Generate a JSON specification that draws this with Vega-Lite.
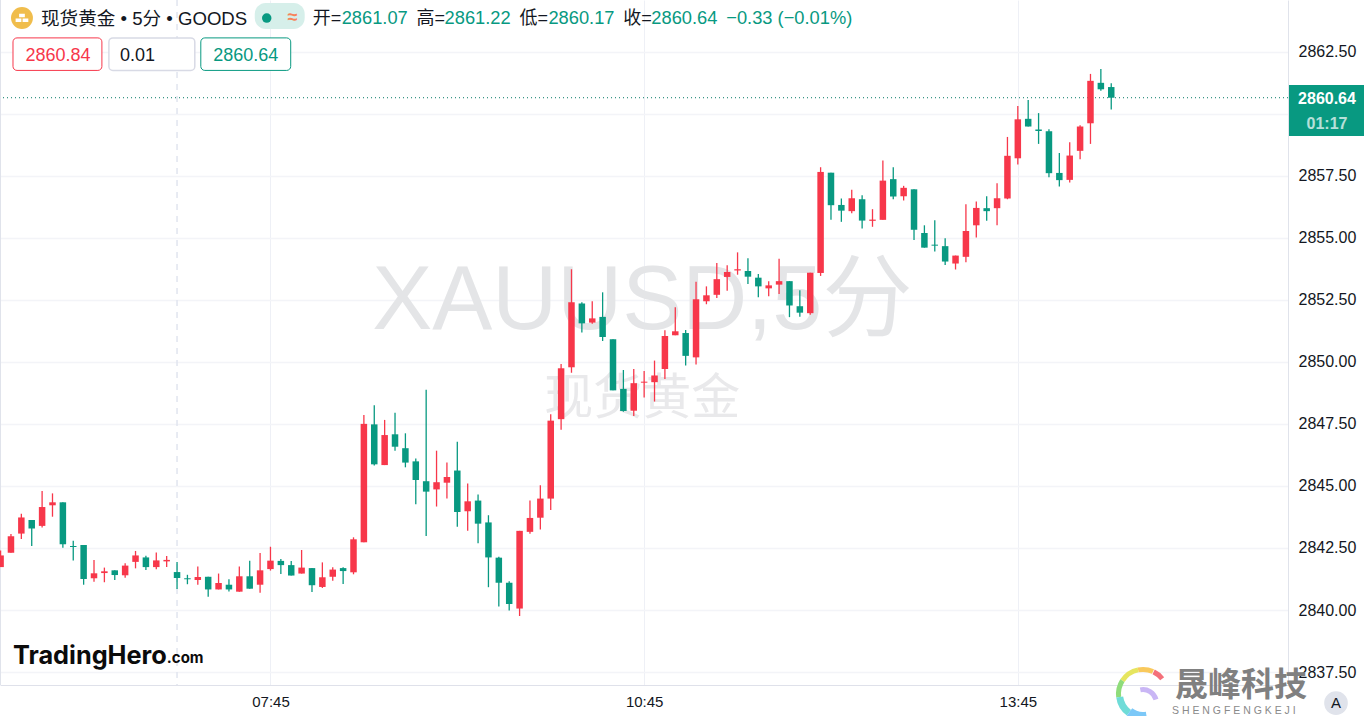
{"$schema":"https://vega.github.io/schema/vega-lite/v6.json","width":1288,"height":685,"autosize":"none","padding":{"left":0,"top":0,"right":76,"bottom":31},"background":"#ffffff","config":{"view":{"stroke":null},"font":"Liberation Sans, Noto Sans CJK SC"},"data":{"values":[{}]},"resolve":{"axis":{"x":"independent","y":"independent"}},"datasets":{"candles":[
{"t":"2025-01-10T05:35:00Z","open":2841.73,"high":2842.4,"low":2841.73,"close":2842.2},
{"t":"2025-01-10T05:40:00Z","open":2842.31,"high":2843.06,"low":2842.31,"close":2842.97},
{"t":"2025-01-10T05:45:00Z","open":2843.08,"high":2843.88,"low":2842.86,"close":2843.73},
{"t":"2025-01-10T05:50:00Z","open":2843.63,"high":2843.63,"low":2842.58,"close":2843.29},
{"t":"2025-01-10T05:55:00Z","open":2843.39,"high":2844.8,"low":2843.33,"close":2844.15},
{"t":"2025-01-10T06:00:00Z","open":2844.22,"high":2844.7,"low":2843.76,"close":2844.34},
{"t":"2025-01-10T06:05:00Z","open":2844.34,"high":2844.34,"low":2842.51,"close":2842.65},
{"t":"2025-01-10T06:10:00Z","open":2842.58,"high":2842.79,"low":2842.0,"close":2842.54},
{"t":"2025-01-10T06:15:00Z","open":2842.62,"high":2842.62,"low":2841.02,"close":2841.25},
{"t":"2025-01-10T06:20:00Z","open":2841.28,"high":2842.02,"low":2841.14,"close":2841.48},
{"t":"2025-01-10T06:25:00Z","open":2841.49,"high":2841.71,"low":2841.12,"close":2841.56},
{"t":"2025-01-10T06:30:00Z","open":2841.6,"high":2841.6,"low":2841.21,"close":2841.41},
{"t":"2025-01-10T06:35:00Z","open":2841.4,"high":2841.89,"low":2841.3,"close":2841.79},
{"t":"2025-01-10T06:40:00Z","open":2841.94,"high":2842.38,"low":2841.68,"close":2842.2},
{"t":"2025-01-10T06:45:00Z","open":2842.12,"high":2842.19,"low":2841.61,"close":2841.73},
{"t":"2025-01-10T06:50:00Z","open":2841.73,"high":2842.32,"low":2841.64,"close":2842.0},
{"t":"2025-01-10T06:55:00Z","open":2841.96,"high":2842.18,"low":2841.73,"close":2842.02},
{"t":"2025-01-10T07:00:00Z","open":2841.53,"high":2841.94,"low":2840.85,"close":2841.29},
{"t":"2025-01-10T07:05:00Z","open":2841.28,"high":2841.42,"low":2841.04,"close":2841.24},
{"t":"2025-01-10T07:10:00Z","open":2841.21,"high":2841.75,"low":2841.02,"close":2841.33},
{"t":"2025-01-10T07:15:00Z","open":2841.34,"high":2841.34,"low":2840.54,"close":2840.83},
{"t":"2025-01-10T07:20:00Z","open":2840.83,"high":2841.47,"low":2840.83,"close":2841.09},
{"t":"2025-01-10T07:25:00Z","open":2841.02,"high":2841.24,"low":2840.75,"close":2840.83},
{"t":"2025-01-10T07:30:00Z","open":2840.74,"high":2841.75,"low":2840.74,"close":2841.36},
{"t":"2025-01-10T07:35:00Z","open":2841.36,"high":2841.99,"low":2840.86,"close":2840.86},
{"t":"2025-01-10T07:40:00Z","open":2841.02,"high":2842.3,"low":2840.7,"close":2841.6},
{"t":"2025-01-10T07:45:00Z","open":2841.65,"high":2842.55,"low":2841.59,"close":2841.99},
{"t":"2025-01-10T07:50:00Z","open":2841.98,"high":2842.06,"low":2841.45,"close":2841.81},
{"t":"2025-01-10T07:55:00Z","open":2841.81,"high":2841.98,"low":2841.39,"close":2841.39},
{"t":"2025-01-10T08:00:00Z","open":2841.47,"high":2842.42,"low":2841.47,"close":2841.71},
{"t":"2025-01-10T08:05:00Z","open":2841.69,"high":2841.69,"low":2840.73,"close":2841.0},
{"t":"2025-01-10T08:10:00Z","open":2840.93,"high":2841.92,"low":2840.89,"close":2841.32},
{"t":"2025-01-10T08:15:00Z","open":2841.34,"high":2841.72,"low":2841.18,"close":2841.63},
{"t":"2025-01-10T08:20:00Z","open":2841.69,"high":2841.72,"low":2841.05,"close":2841.57},
{"t":"2025-01-10T08:25:00Z","open":2841.52,"high":2842.93,"low":2841.44,"close":2842.85},
{"t":"2025-01-10T08:30:00Z","open":2842.73,"high":2847.86,"low":2842.73,"close":2847.5},
{"t":"2025-01-10T08:35:00Z","open":2847.48,"high":2848.25,"low":2845.82,"close":2845.87},
{"t":"2025-01-10T08:40:00Z","open":2845.84,"high":2847.66,"low":2845.84,"close":2847.05},
{"t":"2025-01-10T08:45:00Z","open":2847.08,"high":2847.95,"low":2846.42,"close":2846.58},
{"t":"2025-01-10T08:50:00Z","open":2846.52,"high":2847.12,"low":2845.75,"close":2845.94},
{"t":"2025-01-10T08:55:00Z","open":2845.99,"high":2846.11,"low":2844.26,"close":2845.24},
{"t":"2025-01-10T09:00:00Z","open":2845.19,"high":2848.87,"low":2842.98,"close":2844.77},
{"t":"2025-01-10T09:05:00Z","open":2844.86,"high":2846.42,"low":2844.17,"close":2845.15},
{"t":"2025-01-10T09:10:00Z","open":2845.13,"high":2845.94,"low":2844.49,"close":2845.36},
{"t":"2025-01-10T09:15:00Z","open":2845.62,"high":2846.78,"low":2843.36,"close":2843.95},
{"t":"2025-01-10T09:20:00Z","open":2843.98,"high":2845.1,"low":2843.19,"close":2844.38},
{"t":"2025-01-10T09:25:00Z","open":2844.41,"high":2844.65,"low":2842.69,"close":2843.48},
{"t":"2025-01-10T09:30:00Z","open":2843.53,"high":2843.82,"low":2840.92,"close":2842.12},
{"t":"2025-01-10T09:35:00Z","open":2842.11,"high":2842.15,"low":2840.14,"close":2841.1},
{"t":"2025-01-10T09:40:00Z","open":2841.1,"high":2841.16,"low":2839.98,"close":2840.24},
{"t":"2025-01-10T09:45:00Z","open":2840.06,"high":2843.19,"low":2839.76,"close":2843.19},
{"t":"2025-01-10T09:50:00Z","open":2843.15,"high":2844.41,"low":2843.07,"close":2843.71},
{"t":"2025-01-10T09:55:00Z","open":2843.72,"high":2845.03,"low":2843.24,"close":2844.49},
{"t":"2025-01-10T10:00:00Z","open":2844.49,"high":2847.89,"low":2844.03,"close":2847.63},
{"t":"2025-01-10T10:05:00Z","open":2847.69,"high":2849.91,"low":2847.26,"close":2849.74},
{"t":"2025-01-10T10:10:00Z","open":2849.78,"high":2853.73,"low":2849.56,"close":2852.4},
{"t":"2025-01-10T10:15:00Z","open":2852.35,"high":2852.4,"low":2851.18,"close":2851.55},
{"t":"2025-01-10T10:20:00Z","open":2851.58,"high":2852.44,"low":2851.53,"close":2851.75},
{"t":"2025-01-10T10:25:00Z","open":2851.81,"high":2852.8,"low":2850.84,"close":2851.0},
{"t":"2025-01-10T10:30:00Z","open":2850.91,"high":2850.91,"low":2848.85,"close":2848.85},
{"t":"2025-01-10T10:35:00Z","open":2848.91,"high":2849.67,"low":2847.99,"close":2848.02},
{"t":"2025-01-10T10:40:00Z","open":2848.03,"high":2849.71,"low":2847.82,"close":2849.14},
{"t":"2025-01-10T10:45:00Z","open":2849.16,"high":2849.63,"low":2848.56,"close":2849.2},
{"t":"2025-01-10T10:50:00Z","open":2849.18,"high":2850.05,"low":2848.4,"close":2849.45},
{"t":"2025-01-10T10:55:00Z","open":2849.71,"high":2851.27,"low":2849.31,"close":2851.04},
{"t":"2025-01-10T11:00:00Z","open":2851.07,"high":2852.2,"low":2851.07,"close":2851.23},
{"t":"2025-01-10T11:05:00Z","open":2851.16,"high":2851.28,"low":2849.85,"close":2850.24},
{"t":"2025-01-10T11:10:00Z","open":2850.18,"high":2853.23,"low":2849.89,"close":2852.52},
{"t":"2025-01-10T11:15:00Z","open":2852.44,"high":2853.04,"low":2852.32,"close":2852.68},
{"t":"2025-01-10T11:20:00Z","open":2852.7,"high":2853.98,"low":2852.57,"close":2853.33},
{"t":"2025-01-10T11:25:00Z","open":2853.42,"high":2853.89,"low":2852.86,"close":2853.62},
{"t":"2025-01-10T11:30:00Z","open":2853.68,"high":2854.41,"low":2853.51,"close":2853.73},
{"t":"2025-01-10T11:35:00Z","open":2853.66,"high":2854.17,"low":2853.14,"close":2853.43},
{"t":"2025-01-10T11:40:00Z","open":2853.39,"high":2853.54,"low":2852.6,"close":2853.04},
{"t":"2025-01-10T11:45:00Z","open":2852.96,"high":2853.25,"low":2852.64,"close":2853.08},
{"t":"2025-01-10T11:50:00Z","open":2853.11,"high":2854.15,"low":2852.73,"close":2853.25},
{"t":"2025-01-10T11:55:00Z","open":2853.25,"high":2853.25,"low":2851.8,"close":2852.27},
{"t":"2025-01-10T12:00:00Z","open":2852.24,"high":2852.88,"low":2851.82,"close":2851.98},
{"t":"2025-01-10T12:05:00Z","open":2851.96,"high":2853.59,"low":2851.9,"close":2853.59},
{"t":"2025-01-10T12:10:00Z","open":2853.58,"high":2857.84,"low":2853.46,"close":2857.65},
{"t":"2025-01-10T12:15:00Z","open":2857.62,"high":2857.62,"low":2855.72,"close":2856.31},
{"t":"2025-01-10T12:20:00Z","open":2856.32,"high":2856.58,"low":2855.64,"close":2856.09},
{"t":"2025-01-10T12:25:00Z","open":2856.07,"high":2856.93,"low":2855.99,"close":2856.59},
{"t":"2025-01-10T12:30:00Z","open":2856.55,"high":2856.71,"low":2855.37,"close":2855.69},
{"t":"2025-01-10T12:35:00Z","open":2855.68,"high":2856.15,"low":2855.44,"close":2855.73},
{"t":"2025-01-10T12:40:00Z","open":2855.72,"high":2858.11,"low":2855.72,"close":2857.3},
{"t":"2025-01-10T12:45:00Z","open":2857.36,"high":2857.84,"low":2856.55,"close":2856.66},
{"t":"2025-01-10T12:50:00Z","open":2856.67,"high":2857.09,"low":2856.5,"close":2857.01},
{"t":"2025-01-10T12:55:00Z","open":2856.95,"high":2856.95,"low":2854.91,"close":2855.32},
{"t":"2025-01-10T13:00:00Z","open":2855.19,"high":2855.5,"low":2854.6,"close":2854.6},
{"t":"2025-01-10T13:05:00Z","open":2854.72,"high":2855.7,"low":2854.44,"close":2854.68},
{"t":"2025-01-10T13:10:00Z","open":2854.66,"high":2854.98,"low":2853.9,"close":2854.04},
{"t":"2025-01-10T13:15:00Z","open":2853.96,"high":2854.28,"low":2853.72,"close":2854.28},
{"t":"2025-01-10T13:20:00Z","open":2854.23,"high":2856.35,"low":2854.01,"close":2855.27},
{"t":"2025-01-10T13:25:00Z","open":2855.5,"high":2856.46,"low":2855.01,"close":2856.2},
{"t":"2025-01-10T13:30:00Z","open":2856.19,"high":2856.67,"low":2855.68,"close":2856.07},
{"t":"2025-01-10T13:35:00Z","open":2856.19,"high":2857.19,"low":2855.5,"close":2856.59},
{"t":"2025-01-10T13:40:00Z","open":2856.58,"high":2859.06,"low":2856.55,"close":2858.3},
{"t":"2025-01-10T13:45:00Z","open":2858.2,"high":2860.31,"low":2857.95,"close":2859.77},
{"t":"2025-01-10T13:50:00Z","open":2859.79,"high":2860.55,"low":2859.48,"close":2859.48},
{"t":"2025-01-10T13:55:00Z","open":2859.36,"high":2860.02,"low":2858.78,"close":2859.3},
{"t":"2025-01-10T14:00:00Z","open":2859.29,"high":2859.37,"low":2857.44,"close":2857.6},
{"t":"2025-01-10T14:05:00Z","open":2857.61,"high":2858.41,"low":2857.06,"close":2857.32},
{"t":"2025-01-10T14:10:00Z","open":2857.33,"high":2858.85,"low":2857.22,"close":2858.31},
{"t":"2025-01-10T14:15:00Z","open":2858.5,"high":2859.53,"low":2858.16,"close":2859.48},
{"t":"2025-01-10T14:20:00Z","open":2859.61,"high":2861.6,"low":2858.78,"close":2861.32},
{"t":"2025-01-10T14:25:00Z","open":2861.24,"high":2861.8,"low":2860.92,"close":2860.98},
{"t":"2025-01-10T14:30:00Z","open":2861.07,"high":2861.22,"low":2860.17,"close":2860.64}
]},"layer":[
{"mark":{"type":"text","text":"XAUUSD,5分","fontSize":90,"color":"#e4e5e7","align":"center","baseline":"middle"},"encoding":{
"x":{"datum":1736505848339,"type":"temporal","title":null,"scale":{"domain":[1736487283000,1736524508776],"nice":false,"padding":0},"axis":{"orient":"bottom","values":[1736495100000,1736505900000,1736516700000],"labelExpr":"utcFormat(datum.value,'%H:%M')","title":null,"grid":true,"gridColor":"#eef0f6","gridWidth":1,"ticks":false,"domain":true,"domainColor":"#dfe1ea","labelColor":"#131722","labelFontSize":15,"labelPadding":9,"labelFont":"Liberation Sans"}},
"y":{"datum":2852.41,"type":"quantitative","title":null,"scale":{"domain":[2836.98,2864.577],"nice":false,"zero":false},"axis":{"orient":"right","values":[2837.5,2840,2842.5,2845,2847.5,2850,2852.5,2855,2857.5,2860,2862.5],"format":".2f","title":null,"grid":true,"gridColor":"#f3f4f8","gridWidth":1.5,"ticks":false,"domain":true,"domainColor":"#e0e3eb","labelColor":"#131722","labelFontSize":16,"labelPadding":10,"labelFont":"Liberation Sans"}}}},
{"mark":{"type":"text","text":"现货黄金","fontSize":49,"color":"#e9e9eb","align":"center","baseline":"middle"},"encoding":{"x":{"datum":1736505848339,"type":"temporal","axis":null},"y":{"datum":2848.50,"type":"quantitative","axis":null}}},
{"mark":{"type":"rule","color":"#e1e5ef","strokeWidth":1.5,"strokeDash":[6,6]},"encoding":{"x":{"datum":1736492400000,"type":"temporal","axis":null}}},
{"mark":{"type":"rule","color":"#e0e3eb","strokeWidth":1},"encoding":{"x":{"datum":1736487297436,"type":"temporal","axis":null}}},
{"mark":{"type":"rule","color":"#067a66","strokeWidth":1,"strokeDash":[1,3]},"encoding":{"y":{"datum":2860.64,"type":"quantitative","axis":null}}},
{"data":{"name":"candles"},"mark":{"type":"rule","strokeWidth":1.3},"encoding":{
"x":{"field":"t","type":"temporal","axis":null},
"y":{"field":"low","type":"quantitative","axis":null},
"y2":{"field":"high"},
"color":{"condition":{"test":"datum.close>=datum.open","value":"#f7374a"},"value":"#089981"}}},
{"data":{"name":"candles"},"mark":{"type":"bar","width":6.5},"encoding":{
"x":{"field":"t","type":"temporal","axis":null},
"y":{"field":"open","type":"quantitative","axis":null},"y2":{"field":"close"},
"color":{"condition":{"test":"datum.close>=datum.open","value":"#f7374a"},"value":"#089981"}}},

{"mark":{"type":"point","filled":true,"shape":"circle","size":480,"color":"#f0bd4c","opacity":1},"encoding":{"x":{"datum":1736487918206,"type":"temporal","axis":null},"y":{"datum":2863.85,"type":"quantitative","axis":null}}},
{"mark":{"type":"point","filled":true,"shape":"M-0.28,-0.42H0.28V-0.08H-0.28Z M-0.62,0.04H-0.06V0.38H-0.62Z M0.06,0.04H0.62V0.38H0.06Z","size":420,"color":"#ffffff","opacity":1},"encoding":{"x":{"datum":1736487918206,"type":"temporal","axis":null},"y":{"datum":2863.85,"type":"quantitative","axis":null}}},
{"mark":{"type":"text","text":"现货黄金 • 5分 • GOODS","fontSize":18.6,"color":"#131722","align":"left","baseline":"middle"},"encoding":{"x":{"datum":1736488466793,"type":"temporal","axis":null},"y":{"datum":2863.81,"type":"quantitative","axis":null}}},
{"mark":{"type":"rect","color":"#d6efea","cornerRadius":11},"encoding":{"x":{"datum":1736494645615,"type":"temporal","axis":null},"x2":{"datum":1736496089265},"y":{"datum":2864.46,"type":"quantitative","axis":null},"y2":{"datum":2863.41}}},
{"mark":{"type":"point","filled":true,"shape":"circle","size":90,"color":"#089981","opacity":1},"encoding":{"x":{"datum":1736494992091,"type":"temporal","axis":null},"y":{"datum":2863.85,"type":"quantitative","axis":null}}},
{"mark":{"type":"text","text":"≈","fontSize":18,"fontWeight":"bold","color":"#f7845a","align":"center","baseline":"middle"},"encoding":{"x":{"datum":1736495742789,"type":"temporal","axis":null},"y":{"datum":2863.85,"type":"quantitative","axis":null}}},
{"mark":{"type":"text","text":"开=","fontSize":18,"color":"#131722","align":"left","baseline":"middle"},"encoding":{"x":{"datum":1736496320249,"type":"temporal","axis":null},"y":{"datum":2863.81,"type":"quantitative","axis":null}}},
{"mark":{"type":"text","text":"2861.07","fontSize":18.3,"color":"#089981","align":"left","baseline":"middle"},"encoding":{"x":{"datum":1736497157566,"type":"temporal","axis":null},"y":{"datum":2863.81,"type":"quantitative","axis":null}}},
{"mark":{"type":"text","text":"高=","fontSize":18,"color":"#131722","align":"left","baseline":"middle"},"encoding":{"x":{"datum":1736499323041,"type":"temporal","axis":null},"y":{"datum":2863.81,"type":"quantitative","axis":null}}},
{"mark":{"type":"text","text":"2861.22","fontSize":18.3,"color":"#089981","align":"left","baseline":"middle"},"encoding":{"x":{"datum":1736500131485,"type":"temporal","axis":null},"y":{"datum":2863.81,"type":"quantitative","axis":null}}},
{"mark":{"type":"text","text":"低=","fontSize":18,"color":"#131722","align":"left","baseline":"middle"},"encoding":{"x":{"datum":1736502296960,"type":"temporal","axis":null},"y":{"datum":2863.81,"type":"quantitative","axis":null}}},
{"mark":{"type":"text","text":"2860.17","fontSize":18.3,"color":"#089981","align":"left","baseline":"middle"},"encoding":{"x":{"datum":1736503134277,"type":"temporal","axis":null},"y":{"datum":2863.81,"type":"quantitative","axis":null}}},
{"mark":{"type":"text","text":"收=","fontSize":18,"color":"#131722","align":"left","baseline":"middle"},"encoding":{"x":{"datum":1736505299752,"type":"temporal","axis":null},"y":{"datum":2863.81,"type":"quantitative","axis":null}}},
{"mark":{"type":"text","text":"2860.64","fontSize":18.3,"color":"#089981","align":"left","baseline":"middle"},"encoding":{"x":{"datum":1736506108196,"type":"temporal","axis":null},"y":{"datum":2863.81,"type":"quantitative","axis":null}}},
{"mark":{"type":"text","text":"−0.33 (−0.01%)","fontSize":18.3,"color":"#089981","align":"left","baseline":"middle"},"encoding":{"x":{"datum":1736508273671,"type":"temporal","axis":null},"y":{"datum":2863.81,"type":"quantitative","axis":null}}},

{"mark":{"type":"rect","fill":"#ffffff","stroke":"#f7374a","strokeWidth":1,"cornerRadius":4},"encoding":{"x":{"datum":1736487658349,"type":"temporal","axis":null},"x2":{"datum":1736490228046},"y":{"datum":2863.05,"type":"quantitative","axis":null},"y2":{"datum":2861.74}}},
{"mark":{"type":"text","text":"2860.84","fontSize":18,"color":"#f7374a","align":"center","baseline":"middle"},"encoding":{"x":{"datum":1736488957634,"type":"temporal","axis":null},"y":{"datum":2862.32,"type":"quantitative","axis":null}}},
{"mark":{"type":"rect","fill":"#ffffff","stroke":"#d8dae5","strokeWidth":1.5,"cornerRadius":4},"encoding":{"x":{"datum":1736490430157,"type":"temporal","axis":null},"x2":{"datum":1736492913235},"y":{"datum":2863.05,"type":"quantitative","axis":null},"y2":{"datum":2861.74}}},
{"mark":{"type":"text","text":"0.01","fontSize":18,"color":"#131722","align":"left","baseline":"middle"},"encoding":{"x":{"datum":1736490747760,"type":"temporal","axis":null},"y":{"datum":2862.32,"type":"quantitative","axis":null}}},
{"mark":{"type":"rect","fill":"#ffffff","stroke":"#089981","strokeWidth":1,"cornerRadius":4},"encoding":{"x":{"datum":1736493086473,"type":"temporal","axis":null},"x2":{"datum":1736495685043},"y":{"datum":2863.05,"type":"quantitative","axis":null},"y2":{"datum":2861.74}}},
{"mark":{"type":"text","text":"2860.64","fontSize":18,"color":"#089981","align":"center","baseline":"middle"},"encoding":{"x":{"datum":1736494385758,"type":"temporal","axis":null},"y":{"datum":2862.32,"type":"quantitative","axis":null}}},

{"mark":{"type":"rect","color":"#089981"},"encoding":{"x":{"datum":1736524537678,"type":"temporal","axis":null},"x2":{"datum":1736526705328},"y":{"datum":2861.15,"type":"quantitative","axis":null},"y2":{"datum":2859.10}}},
{"mark":{"type":"text","text":"2860.64","fontSize":16,"fontWeight":"bold","color":"#ffffff","align":"center","baseline":"middle"},"encoding":{"x":{"datum":1736525635954,"type":"temporal","axis":null},"y":{"datum":2860.60,"type":"quantitative","axis":null}}},
{"mark":{"type":"text","text":"01:17","fontSize":16,"fontWeight":"bold","color":"#ffffff","opacity":0.7,"align":"center","baseline":"middle"},"encoding":{"x":{"datum":1736525635954,"type":"temporal","axis":null},"y":{"datum":2859.58,"type":"quantitative","axis":null}}},

{"mark":{"type":"text","text":"TradingHero","fontSize":25.3,"fontWeight":"bold","font":"Inter","color":"#0b0b0b","align":"left","baseline":"middle"},"encoding":{"x":{"datum":1736487658349,"type":"temporal","axis":null},"y":{"datum":2838.15,"type":"quantitative","axis":null}}},
{"mark":{"type":"text","text":".com","fontSize":15,"fontWeight":"bold","font":"Inter","color":"#0b0b0b","align":"left","baseline":"middle"},"encoding":{"x":{"datum":1736492104791,"type":"temporal","axis":null},"y":{"datum":2838.07,"type":"quantitative","axis":null}}},

{"mark":{"type":"text","text":"晟峰科技","fontSize":33,"fontWeight":"bold","color":"#808080","align":"left","baseline":"middle"},"encoding":{"x":{"datum":1736521242850,"type":"temporal","axis":null},"y":{"datum":2836.94,"type":"quantitative","axis":null}}},
{"mark":{"type":"text","text":"S H E N G F E N G K E J I","fontSize":10.5,"color":"#8a8a8a","align":"left","baseline":"middle"},"encoding":{"x":{"datum":1736521156144,"type":"temporal","axis":null},"y":{"datum":2835.93,"type":"quantitative","axis":null}}},
{"mark":{"type":"arc","radius":27,"radius2":22,"theta":0.45,"theta2":0.9,"color":"#f4707a"},"encoding":{"x":{"datum":1736520317986,"type":"temporal","axis":null},"y":{"datum":2836.62,"type":"quantitative","axis":null}}},
{"mark":{"type":"arc","radius":27,"radius2":22,"theta":-0.2,"theta2":0.42,"color":"#f9c95c"},"encoding":{"x":{"datum":1736520317986,"type":"temporal","axis":null},"y":{"datum":2836.62,"type":"quantitative","axis":null}}},
{"mark":{"type":"arc","radius":27,"radius2":22,"theta":-1.0,"theta2":-0.2,"color":"#e6e55f"},"encoding":{"x":{"datum":1736520317986,"type":"temporal","axis":null},"y":{"datum":2836.62,"type":"quantitative","axis":null}}},
{"mark":{"type":"arc","radius":27,"radius2":22,"theta":-1.7,"theta2":-1.0,"color":"#8fdc7a"},"encoding":{"x":{"datum":1736520317986,"type":"temporal","axis":null},"y":{"datum":2836.62,"type":"quantitative","axis":null}}},
{"mark":{"type":"arc","radius":27,"radius2":20,"theta":-2.5,"theta2":-1.7,"color":"#6fdcd8"},"encoding":{"x":{"datum":1736520317986,"type":"temporal","axis":null},"y":{"datum":2836.62,"type":"quantitative","axis":null}}},
{"mark":{"type":"arc","radius":27,"radius2":18,"theta":-3.3,"theta2":-2.5,"color":"#7cc8f8"},"encoding":{"x":{"datum":1736520317986,"type":"temporal","axis":null},"y":{"datum":2836.62,"type":"quantitative","axis":null}}},
{"mark":{"type":"arc","radius":16,"radius2":11,"theta":-0.2,"theta2":1.3,"color":"#c9b6f5"},"encoding":{"x":{"datum":1736520317986,"type":"temporal","axis":null},"y":{"datum":2836.25,"type":"quantitative","axis":null}}},

{"mark":{"type":"point","filled":true,"shape":"circle","size":560,"color":"#e0e3eb","opacity":1},"encoding":{"x":{"datum":1736525896072,"type":"temporal","axis":null},"y":{"datum":2836.25,"type":"quantitative","axis":null}}},
{"mark":{"type":"text","text":"A","fontSize":15,"color":"#131722","align":"center","baseline":"middle"},"encoding":{"x":{"datum":1736525896072,"type":"temporal","axis":null},"y":{"datum":2836.25,"type":"quantitative","axis":null}}}
]}
